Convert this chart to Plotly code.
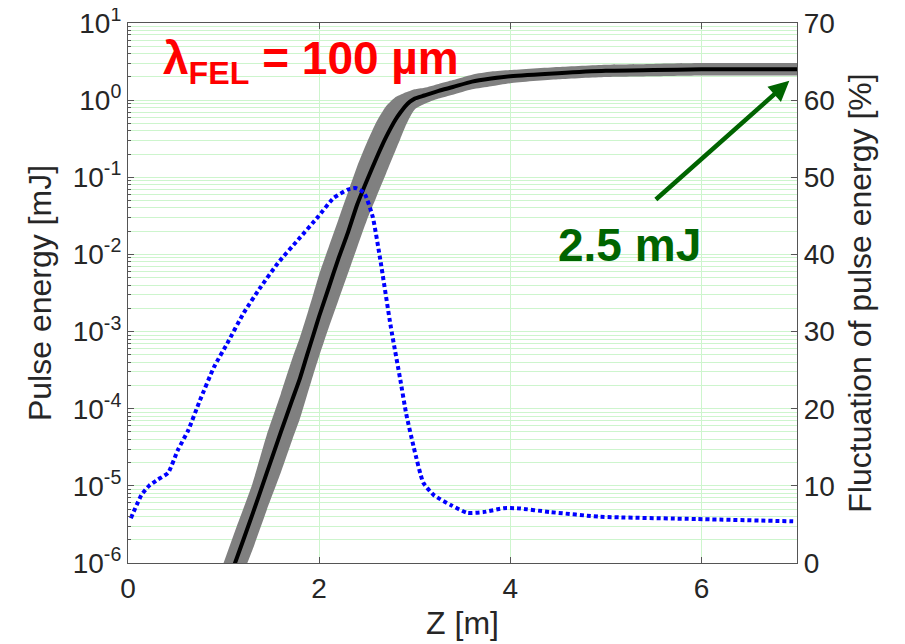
import plotly.graph_objects as go

# ---- data ----
z_e = [1.0, 1.12, 1.3, 1.45, 1.6, 1.72, 1.80, 1.87, 1.94, 2.0, 2.1, 2.2, 2.3, 2.4, 2.5,
       2.6, 2.7, 2.8, 2.85, 2.9, 2.95, 3.0, 3.1, 3.25, 3.4, 3.6, 3.8, 4.0, 4.5, 5.0,
       5.5, 6.0, 6.5, 7.0]
e_mean = [4.0e-7, 1.0e-6, 4.2e-6, 1.45e-5, 5.0e-5, 1.32e-4, 2.5e-4, 4.8e-4, 9.1e-4, 1.58e-3,
          3.7e-3, 8.7e-3, 1.9e-2, 4.5e-2, 9.1e-2, 0.178, 0.331, 0.562, 0.692, 0.832,
          0.955, 1.047, 1.148, 1.318, 1.479, 1.738, 1.905, 2.042, 2.239, 2.399,
          2.455, 2.512, 2.512, 2.512]
e_low = [1.6e-7, 4.0e-7, 1.45e-6, 4.8e-6, 1.5e-5, 4.0e-5, 7.5e-5, 1.45e-4, 2.8e-4, 4.8e-4,
         1.12e-3, 2.5e-3, 5.6e-3, 1.26e-2, 2.8e-2, 5.6e-2, 0.112, 0.224, 0.316, 0.447,
         0.603, 0.759, 0.891, 1.047, 1.175, 1.380, 1.514, 1.660, 1.862, 1.995,
         2.042, 2.089, 2.089, 2.089]
e_high = [1.0e-6, 2.6e-6, 1.05e-5, 4.5e-5, 1.58e-4, 4.5e-4, 8.5e-4, 1.6e-3, 3.1e-3, 5.5e-3,
          1.25e-2, 2.8e-2, 6.3e-2, 0.141, 0.282, 0.525, 0.832, 1.096, 1.175, 1.259,
          1.318, 1.380, 1.445, 1.622, 1.820, 2.138, 2.344, 2.455, 2.692, 2.884,
          2.951, 3.020, 3.020, 3.020]

z_f = [0.03, 0.14, 0.22, 0.31, 0.42, 0.52, 0.63, 0.75, 0.90, 1.04, 1.21, 1.39, 1.57, 1.78,
       1.99, 2.15, 2.30, 2.38, 2.47, 2.56, 2.64, 2.75, 2.85, 2.91, 2.99, 3.09, 3.20,
       3.38, 3.55, 3.72, 3.93, 4.07, 4.42, 4.94, 5.95, 6.96]
fluct = [5.8, 8.8, 10.0, 10.8, 11.7, 14.6, 17.2, 21.0, 25.4, 28.5, 32.4, 35.8, 38.9, 41.9,
         44.9, 47.3, 48.4, 48.6, 48.0, 44.9, 39.3, 30.6, 23.7, 19.4, 15.0, 10.4, 8.8,
         7.5, 6.5, 6.6, 7.1, 7.1, 6.6, 6.0, 5.7, 5.4]

y_tickvals = [1e-6, 1e-5, 1e-4, 1e-3, 1e-2, 1e-1, 1e0, 1e1]
y_ticktext = ["10<sup>-6</sup>", "10<sup>-5</sup>", "10<sup>-4</sup>", "10<sup>-3</sup>",
              "10<sup>-2</sup>", "10<sup>-1</sup>", "10<sup>0</sup>", "10<sup>1</sup>"]
x_tickvals = [0, 2, 4, 6]
y2_tickvals = [0, 10, 20, 30, 40, 50, 60, 70]

FONT = "Liberation Sans, Arial, sans-serif"
GRID = "#cdf5cd"
AX = "#555555"
TICK = 28
TITLE = 32

fig = go.Figure()
fig.add_trace(go.Scatter(x=z_e, y=e_low, mode="lines",
                         line=dict(width=0, color="#808080", shape="spline", smoothing=0.6),
                         showlegend=False, hoverinfo="skip"))
fig.add_trace(go.Scatter(x=z_e, y=e_high, mode="lines",
                         line=dict(width=0, color="#808080", shape="spline", smoothing=0.6),
                         fill="tonexty", fillcolor="#808080", showlegend=False))
fig.add_trace(go.Scatter(x=z_e, y=e_mean, mode="lines",
                         line=dict(width=4, color="black", shape="spline", smoothing=0.6),
                         showlegend=False))
fig.add_trace(go.Scatter(x=z_f, y=fluct, mode="lines", yaxis="y2",
                         line=dict(width=4, color="#0000ff", dash="4px,3px",
                                   shape="spline", smoothing=0.5),
                         showlegend=False))

fig.update_layout(
    width=897, height=636,
    margin=dict(l=120, r=108, t=15, b=81, autoexpand=False),
    plot_bgcolor="white", paper_bgcolor="white",
    font=dict(family=FONT, size=TICK, color="#262626"),
    xaxis=dict(range=[0, 7], tickvals=x_tickvals, ticks="inside", ticklen=6,
               tickcolor=AX, showline=True, linecolor=AX, linewidth=1.2, mirror="ticks",
               showgrid=True, gridcolor=GRID, gridwidth=1, zeroline=False, automargin=False,
               ticklabeloverflow="allow",
               title=dict(text="Z [m]", font=dict(size=TITLE), standoff=8),
               tickfont=dict(size=TICK)),
    yaxis=dict(type="log", range=[-6, 1], tickvals=y_tickvals, ticktext=y_ticktext,
               ticks="inside", ticklen=6, tickcolor=AX, showline=True, linecolor=AX,
               linewidth=1.2, showgrid=True, gridcolor=GRID, gridwidth=1, zeroline=False,
               automargin=False, ticklabeloverflow="allow",
               minor=dict(dtick="D1", ticks="inside", ticklen=3, tickcolor=AX,
                          showgrid=True, gridcolor=GRID, gridwidth=1),
               title=dict(text="Pulse energy [mJ]", font=dict(size=TITLE), standoff=11),
               tickfont=dict(size=TICK)),
    yaxis2=dict(overlaying="y", side="right", range=[0, 70], tickvals=y2_tickvals,
                ticks="inside", ticklen=6, tickcolor=AX, showline=True, linecolor=AX,
                linewidth=1.2, showgrid=False, zeroline=False, automargin=False,
                ticklabeloverflow="allow",
                title=dict(text="Fluctuation of pulse energy [%]", font=dict(size=TITLE), standoff=14),
                tickfont=dict(size=TICK)),
)

fig.add_annotation(x=0.35, y=0.5, xref="x", yref="y", xanchor="left", yanchor="middle",
                   text="<b>λ<sub>FEL</sub> = 100 µm</b>", showarrow=False,
                   font=dict(size=46, color="#ff0000", family=FONT))
fig.add_annotation(x=5.25, y=-1.88, xref="x", yref="y", text="<b>2.5 mJ</b>",
                   showarrow=False, font=dict(size=46, color="#006400", family=FONT))
fig.add_annotation(x=6.92, y=0.25, xref="x", yref="y", axref="pixel", ayref="pixel",
                   ax=-135, ay=120, text="", showarrow=True, arrowhead=2, arrowsize=0.9,
                   arrowwidth=4.5, arrowcolor="#006400")

fig.write_html("out.html")
